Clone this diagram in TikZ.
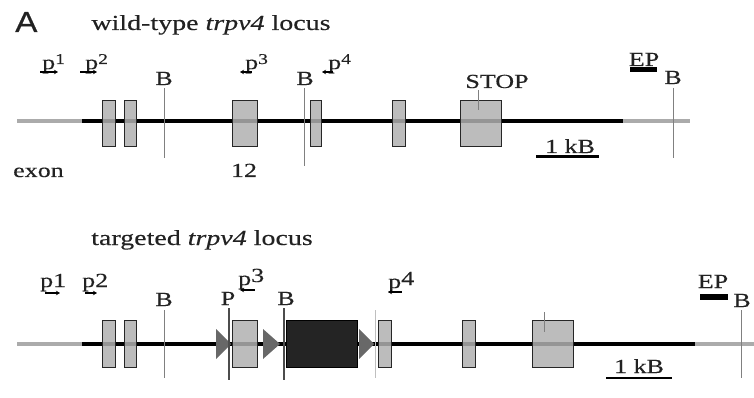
\documentclass[tikz,border=0pt]{standalone}
\usepackage{fontspec}
\setmainfont{Liberation Serif}[FakeStretch=1.3, FakeBold=0.3]
\newfontfamily\panelfont{Liberation Sans}[FakeStretch=1.15, FakeBold=0.6]
\usetikzlibrary{arrows.meta}
\definecolor{lightline}{HTML}{ABABAB}
\definecolor{exongray}{HTML}{B0B0B0}
\definecolor{cassette}{HTML}{242424}
\definecolor{loxgray}{HTML}{686868}
\definecolor{ink}{HTML}{222222}

\newcommand{\supnum}[1]{\raisebox{5pt}{\fontsize{15}{15}\selectfont #1}}

\begin{document}
\begin{tikzpicture}[
        x=1pt, y=-1pt,
        lbl/.style={font=\fontsize{20}{21}\selectfont, text=ink, inner sep=0pt, anchor=base},
        exon/.style={draw=black!85, line width=0.9pt, fill=exongray, fill opacity=0.85, inner sep=0pt},
        flank/.style={lightline, line width=4pt},
        gene/.style={black, line width=4.5pt},
        site/.style={gray, line width=0.8pt},
        cut/.style={black!70, line width=2.4pt},
        fwd/.style={line width=1.5pt, -{Stealth[length=4pt,width=4.5pt]}},
        rev/.style={line width=1.5pt, {Stealth[length=4pt,width=4.5pt]}-},
        loxp/.style={fill=loxgray, draw=none}
    ]
        \useasboundingbox (0,0) rectangle (754,398);

        % 外显子位置 (name/left/right)
        \def\wtexons{w1/102/115, w2/124/136, w12/232/257, w13/310/321, w14/392/405, wstop/460/501}
        \def\tgexons{t1/102/115, t2/124/136, t12/232/257, t13/378/391, t14/462/475, tstop/532/573}

        % ---------------- wild-type ----------------
        \node[text=ink, inner sep=0pt, anchor=base west] (panel) at (15,32) {\panelfont\fontsize{29}{29}\selectfont A};
        \node[lbl, font=\fontsize{21.5}{22}\selectfont] (wtTitle) at (211,30) {wild-type \textit{trpv4} locus};

        \draw[flank] (17,121) -- (82,121);
        \draw[gene] (82,121) -- (623,121);
        \draw[flank] (623,121) -- (690,121);

        \foreach \name/\a/\b in \wtexons {
            \node[exon, minimum width={\b-\a}, minimum height=46] (\name) at ({(\a+\b)/2},123) {};
        }

        % 酶切位点
        \foreach \x/\ya/\yb in {164/88/158, 304/88/166, 673/88/158, 478/90/110} {
            \draw[site] (\x,\ya) -- (\x,\yb);
        }
        \node[lbl] (Bw1) at (164,85) {B};
        \node[lbl] (Bw2) at (305,85) {B};
        \node[lbl] (Bw3) at (673,84) {B};
        \node[lbl] (stopw) at (497,88) {STOP};
        \node[lbl] (EPw) at (644,66) {EP};
        \draw[black, line width=5pt] (630,70) -- (657,70);

        % 引物
        \node[lbl, anchor=base west] (p1w) at (42,69) {p\supnum{1}};
        \node[lbl, anchor=base west] (p2w) at (85,69) {p\supnum{2}};
        \node[lbl, anchor=base west] (p3w) at (245,69) {p\supnum{3}};
        \node[lbl, anchor=base west] (p4w) at (328,69) {p\supnum{4}};
        \draw[fwd] ([shift={(-2,3)}]p1w.base west) -- +(18,0);
        \draw[fwd] ([shift={(-5,3)}]p2w.base west) -- +(17,0);
        \draw[rev] ([shift={(-5,3)}]p3w.base west) -- +(12,0);
        \draw[rev] ([shift={(-6,3)}]p4w.base west) -- +(11,0);

        \node[lbl, anchor=base west] (exonlbl) at (13,177) {exon};
        \node[lbl] (num12) at (244,177) {12};
        \node[lbl] (kbw) at (570,153) {1 kB};
        \draw[black, line width=3pt] (536,157) -- (599,157);

        % ---------------- targeted ----------------
        \node[lbl, font=\fontsize{21.5}{22}\selectfont] (tgTitle) at (202,245) {targeted \textit{trpv4} locus};

        \draw[flank] (17,344) -- (82,344);
        \draw[gene] (82,344) -- (695,344);
        \draw[flank] (695,344) -- (754,344);

        \foreach \name/\a/\b in \tgexons {
            \node[exon, minimum width={\b-\a}, minimum height=47] (\name) at ({(\a+\b)/2},343.5) {};
        }
        \node[fill=cassette, draw=black, line width=0.8pt, minimum width=71, minimum height=47, inner sep=0pt] (neo) at (321.5,343.5) {};

        % loxP
        \foreach \xa/\xb in {216/231, 263/280, 359/374} {
            \fill[loxp] (\xa,329) -- (\xb,344) -- (\xa,359) -- cycle;
        }

        \foreach \x/\ya/\yb in {164/310/378, 741/310/378, 544/312/332} {
            \draw[site] (\x,\ya) -- (\x,\yb);
        }
        \draw[site, gray!50] (375,310) -- (375,378);
        \draw[cut] (229,308) -- (229,380);
        \draw[cut] (284,308) -- (284,380);

        \node[lbl] (Bt1) at (164,306) {B};
        \node[lbl] (Pt) at (228,305) {P};
        \node[lbl] (Bt2) at (286,305) {B};
        \node[lbl] (Bt3) at (742,307) {B};
        \node[lbl] (EPt) at (713,288) {EP};
        \draw[black, line width=6pt] (700,297) -- (728,297);

        \node[lbl, anchor=base west] (p1t) at (40,287) {p1};
        \node[lbl, anchor=base west] (p2t) at (82,287) {p2};
        \node[lbl, anchor=base west] (p3t) at (238,285) {p\raisebox{3pt}{3}};
        \node[lbl, anchor=base west] (p4t) at (388,288) {p\raisebox{3pt}{4}};
        \draw[fwd] ([shift={(5,6)}]p1t.base west) -- +(15,0);
        \draw[fwd] ([shift={(3,6)}]p2t.base west) -- +(12,0);
        \draw[rev] ([shift={(2,5)}]p3t.base west) -- +(15,0);
        \draw[rev] ([shift={(0,4)}]p4t.base west) -- +(14,0);

        \node[lbl] (kbt) at (639,373) {1 kB};
        \draw[black, line width=2pt] (606,378) -- (672,378);
    \end{tikzpicture}
\end{document}
